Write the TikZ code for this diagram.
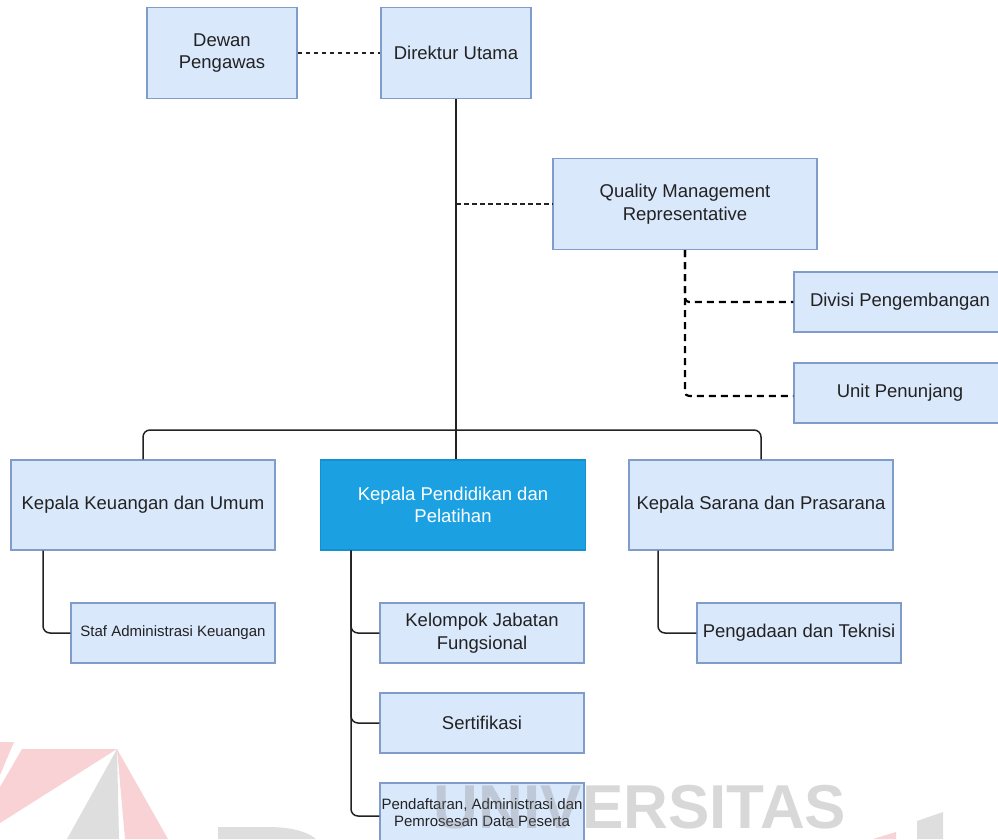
\documentclass[tikz,border=0pt]{standalone}
\usepackage{fontspec}
\setmainfont{Liberation Sans}
\definecolor{boxfill}{HTML}{DAE8FC}
\definecolor{boxline}{HTML}{7F9CCB}
\definecolor{headfill}{HTML}{1BA1E2}
\definecolor{headline}{HTML}{1590CF}
\definecolor{txt}{HTML}{222222}
\definecolor{wmred}{HTML}{E53340}
\definecolor{wmgrey}{HTML}{808080}
\begin{document}
\begin{tikzpicture}[x=1pt,y=-1pt,
  box/.style={draw=boxline, fill=boxfill, line width=1.2pt, inner sep=0pt,
    align=center, text=txt, font=\fontsize{18.5}{22.5}\selectfont},
  smallbox/.style={box, font=\fontsize{15}{17}\selectfont},
  headbox/.style={box, draw=headline, fill=headfill, text=white},
  conn/.style={draw=txt, line width=1.5pt, rounded corners=7pt},
  dashA/.style={draw=txt, line width=1.3pt, dash pattern=on 4.5pt off 3.5pt},
  dashB/.style={draw=black, line width=2.2pt, dash pattern=on 7pt off 5pt, rounded corners=4pt},
  wm/.style={fill opacity=0.28}
]
\useasboundingbox (0,0) rectangle (998,839);
\fill[white] (0,0) rectangle (998,839);

% top management
\node[box, minimum width=150pt, minimum height=91pt] (dewan) at (222,53) {Dewan\\Pengawas};
\node[box, minimum width=150pt, minimum height=91pt] (dir) at (456,53) {Direktur Utama};
\node[box, minimum width=264pt, minimum height=91pt] (qmr) at (685,204) {Quality Management\\Representative};
\node[box, minimum width=212pt, minimum height=60pt] (div) at (900,302) {Divisi Pengembangan};
\node[box, minimum width=212pt, minimum height=60pt] (unit) at (900,393) {Unit Penunjang};

% department heads
\node[box, minimum width=264pt, minimum height=90pt] (kk) at (143,505) {Kepala Keuangan dan Umum};
\node[headbox, minimum width=265pt, minimum height=90pt] (kp) at (453,505) {Kepala Pendidikan dan\\Pelatihan};
\node[box, minimum width=264pt, minimum height=90pt] (ks) at (761,505) {Kepala Sarana dan Prasarana};

% staff units
\node[smallbox, minimum width=204pt, minimum height=60pt] (staf) at (173,633) {Staf Administrasi Keuangan};
\node[box, minimum width=204pt, minimum height=60pt] (kjf) at (482,633) {Kelompok Jabatan\\Fungsional};
\node[box, minimum width=204pt, minimum height=60pt] (sert) at (482,723) {Sertifikasi};
\node[smallbox, minimum width=204pt, minimum height=60pt] (pend) at (482,813) {Pendaftaran, Administrasi dan\\Pemrosesan Data Peserta};
\node[box, minimum width=204pt, minimum height=60pt] (peng) at (799,633) {Pengadaan dan Teknisi};

% solid reporting lines
\coordinate (bus) at (455,430);
\draw[conn] (dir.south) -- (dir.south |- kp.north);
\draw[conn] (bus) -| (kk.north);
\draw[conn] (bus) -| (ks.north);
\draw[conn] ([xshift=-100pt]kk.south) |- (staf.west);
\draw[conn] ([xshift=-102pt]kp.south) |- (kjf.west);
\draw[conn] ([xshift=-102pt]kp.south) |- (sert.west);
\draw[conn] ([xshift=-102pt]kp.south) |- ([yshift=-3pt]pend.west);
\draw[conn] ([xshift=-103pt]ks.south) |- (peng.west);

% dashed advisory lines
\coordinate (qj) at (dir.south |- qmr.west);
\draw[dashA] (dewan.east) -- (dir.west);
\draw[dashA] (qj) -- (qmr.west);
\draw[dashB] (qmr.south) |- (div.west);
\draw[dashB] (qmr.south) |- ([yshift=-3pt]unit.west);

% faint institutional emblem and lettering
\begin{scope}[wm]
  \fill[wmred, fill opacity=0.22] (0,742) -- (14,742) -- (0,775) -- cycle;
  \fill[wmred, fill opacity=0.22] (22,749) -- (117,749) -- (0,823) -- (0,787) -- cycle;
  \fill[wmgrey, fill opacity=0.26] (117,749) -- (119,839) -- (67,839) -- cycle;
  \fill[wmred, fill opacity=0.22] (117,749) -- (168,839) -- (125,839) -- cycle;
  \fill[wmgrey, fill opacity=0.26] (218,827) -- (268,827) .. controls (292,827) and (308,832) .. (316,839) -- (218,839) -- cycle;
  \fill[wmgrey, fill opacity=0.26] (917,821) -- (943,812) -- (943,839) -- (917,839) -- cycle;
  \fill[wmred, fill opacity=0.22] (873,839) -- (896,832) -- (896,839) -- cycle;
  \node[anchor=base, inner sep=0pt, text=wmgrey, text opacity=0.3,
        font=\fontsize{62}{62}\selectfont\bfseries] (wmtext) at (640,828) {UNIVERSITAS};
\end{scope}
\end{tikzpicture}
\end{document}
